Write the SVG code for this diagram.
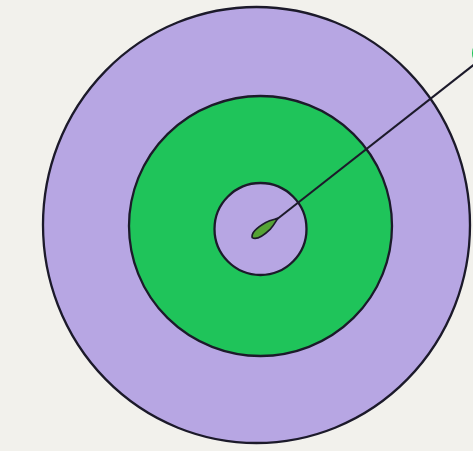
<svg xmlns="http://www.w3.org/2000/svg" width="473" height="451" viewBox="0 0 473 451">
<style>
.ring{stroke:#1c1a2a;stroke-width:2.3}
.purple{fill:#b7a6e3}
.green{fill:#1fc45a}
</style>
<rect width="473" height="451" fill="#f2f1ec"/>
<g id="outer-ring"><ellipse class="ring purple" cx="256.5" cy="225" rx="213.5" ry="218"/></g>
<g id="middle-ring"><ellipse class="ring green" cx="260.5" cy="226" rx="131.5" ry="130"/></g>
<g id="inner-ring"><ellipse class="ring purple" cx="260.5" cy="229" rx="46" ry="46"/></g>
<g id="connectors">
<line x1="276" y1="220" x2="476" y2="63" stroke="#1c1a2a" stroke-width="2"/>
</g>
<g id="dart">
<g transform="translate(265,228) rotate(-37)">
<path d="M-16,0 C-14,-5 -4,-5 4,-4 C9,-3 13,-1 16,0 C13,1 9,3 4,4 C-4,5 -14,5 -16,0 Z" fill="#55a335" stroke="#1c1a2a" stroke-width="1.7"/>
</g>
<ellipse cx="482" cy="53" rx="10" ry="12" fill="#1fc45a"/>
</g>
</svg>
